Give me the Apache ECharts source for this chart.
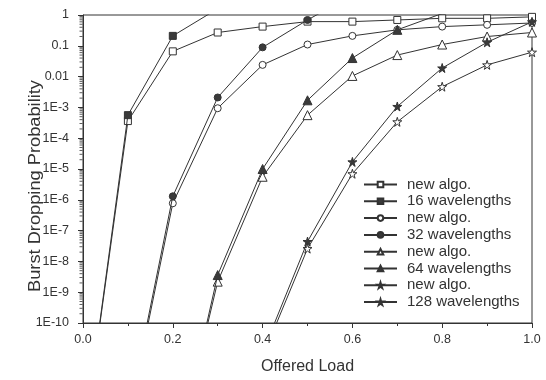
<!DOCTYPE html>
<html>
<head>
<meta charset="utf-8">
<script src="https://cdn.jsdelivr.net/npm/echarts@6/dist/echarts.min.js"></script>
<style>
  html, body { margin: 0; padding: 0; background: #fff; }
  #chart { width: 546px; height: 380px; }
</style>
</head>
<body>
<div id="chart"></div>
<script>
  // offered load values on the x axis
  var loads = [0.0, 0.1, 0.2, 0.3, 0.4, 0.5, 0.6, 0.7, 0.8, 0.9, 1.0];

  // burst dropping probability, one entry per load (null = not plotted)
  var newAlgo16 = [1e-14, 3.6e-4, 0.066, 0.27, 0.42, 0.61, 0.61, 0.69, 0.78, 0.78, 0.87];
  var wl16 = [1e-14, 5.6e-4, 0.21, 1.6, null, null, null, null, null, null, null];
  var newAlgo32 = [null, 6e-14, 7.7e-7, 9.4e-4, 0.024, 0.11, 0.21, 0.33, 0.42, 0.48, 0.55];
  var wl32 = [null, 8e-14, 1.3e-6, 2.1e-3, 0.089, 0.69, 4.4, null, null, null, null];
  var newAlgo64 = [null, null, 1.6e-15, 2.2e-9, 5.6e-6, 5.6e-4, 0.0105, 0.05, 0.11, 0.2, 0.27];
  var wl64 = [null, null, 1.3e-15, 3.6e-9, 1e-5, 1.7e-3, 0.04, 0.33, 1.12, null, null];
  var newAlgo128 = [null, null, null, null, 8e-12, 2.6e-8, 7e-6, 3.4e-4, 4.7e-3, 0.024, 0.062];
  var wl128 = [null, null, null, null, 1.1e-11, 4.4e-8, 1.7e-5, 1.07e-3, 0.019, 0.13, 0.6];

  var legendNames = ['new algo. 16', '16 wavelengths', 'new algo. 32', '32 wavelengths',
    'new algo. 64', '64 wavelengths', 'new algo. 128', '128 wavelengths'];

  // minor ticks of the log axis (2..9 in every decade)
  var minorVals = [];
  for (var d = 1; d <= 10; d++) {
    for (var k = 2; k <= 9; k++) {
      minorVals.push(k * Math.pow(10, -d));
    }
  }

  var ink = '#333';
  var font = 'Liberation Sans, Arial, sans-serif';
  var star = 'path://M50,0 L61,35 L98,35 L68,57 L79,91 L50,70 L21,91 L32,57 L2,35 L39,35 Z';

  function pairs(vals) {
    var out = [];
    vals.forEach(function (v, i) {
      if (v != null) out.push([loads[i], v]);
    });
    return out;
  }

  function makeSeries(name, vals, symbol, size, filled) {
    return {
      name: name,
      type: 'line',
      data: pairs(vals),
      symbol: symbol,
      symbolSize: size,
      showAllSymbol: true,
      clip: true,
      lineStyle: { color: ink, width: 1 },
      itemStyle: {
        color: filled ? '#3a3a3a' : '#fff',
        borderColor: ink,
        borderWidth: 1
      },
      emphasis: { disabled: true },
      z: filled ? 3 : 2
    };
  }

  var chart = echarts.init(document.getElementById('chart'));
  chart.setOption({
    animation: false,
    backgroundColor: '#fff',
    textStyle: { fontFamily: font },
    grid: {
      left: 83,
      right: 14,
      top: 15,
      bottom: 51,
      show: true,
      borderColor: ink,
      borderWidth: 1,
      backgroundColor: 'transparent'
    },
    legend: {
      orient: 'vertical',
      left: 363,
      top: 177,
      padding: 0,
      itemWidth: 33,
      itemHeight: 7,
      itemGap: 1.8,
      data: legendNames,
      formatter: function (name) {
        return name.indexOf('new algo.') === 0 ? 'new algo.' : name;
      },
      textStyle: { fontSize: 15, color: ink, fontFamily: font, padding: [0, 0, 0, 5] }
    },
    xAxis: {
      type: 'value',
      min: 0,
      max: 1,
      interval: 0.2,
      axisLine: { lineStyle: { color: ink } },
      axisTick: { show: true, inside: false, length: 5, lineStyle: { color: ink } },
      minorTick: { show: true, splitNumber: 2, length: 3, lineStyle: { color: ink } },
      splitLine: { show: false },
      axisLabel: {
        margin: 10,
        fontSize: 12.5,
        color: ink,
        fontFamily: font,
        formatter: function (v) { return v.toFixed(1); }
      },
      name: 'Offered Load',
      nameLocation: 'middle',
      nameGap: 36,
      nameTextStyle: { fontSize: 16, color: ink, fontFamily: font }
    },
    yAxis: {
      type: 'log',
      logBase: 10,
      min: 1e-10,
      max: 1,
      interval: 1,
      splitNumber: 10,
      axisLine: { show: true, lineStyle: { color: ink } },
      axisTick: { show: true, inside: false, length: 5, lineStyle: { color: ink } },
      splitLine: { show: false },
      axisLabel: {
        margin: 14,
        fontSize: 12.5,
        color: ink,
        fontFamily: font,
        formatter: function (v) {
          if (v >= 0.01) return String(+v.toPrecision(3));
          return '1E-' + Math.round(-Math.log10(v));
        }
      }
    },
    graphic: [{
      type: 'text',
      rotation: Math.PI / 2,
      x: 36,
      y: 186,
      scaleX: 1.14,
      style: {
        text: 'Burst Dropping Probability',
        fontSize: 16,
        fontFamily: font,
        fill: ink,
        align: 'center',
        verticalAlign: 'middle'
      }
    }],
    series: [
      makeSeries(legendNames[0], newAlgo16, 'rect', 7, false),
      makeSeries(legendNames[1], wl16, 'rect', 7, true),
      makeSeries(legendNames[2], newAlgo32, 'circle', 7, false),
      makeSeries(legendNames[3], wl32, 'circle', 7, true),
      makeSeries(legendNames[4], newAlgo64, 'triangle', 9, false),
      makeSeries(legendNames[5], wl64, 'triangle', 9, true),
      makeSeries(legendNames[6], newAlgo128, star, 9, false),
      makeSeries(legendNames[7], wl128, star, 9, true),
      {
        // short ticks at 2..9 x 10^n, left of the y axis line
        type: 'scatter',
        silent: true,
        clip: false,
        symbol: 'rect',
        symbolSize: [3, 1],
        symbolOffset: [-2, 0],
        itemStyle: { color: ink },
        z: 10,
        data: minorVals.map(function (v) { return [0, v]; })
      }
    ]
  });
</script>
</body>
</html>
